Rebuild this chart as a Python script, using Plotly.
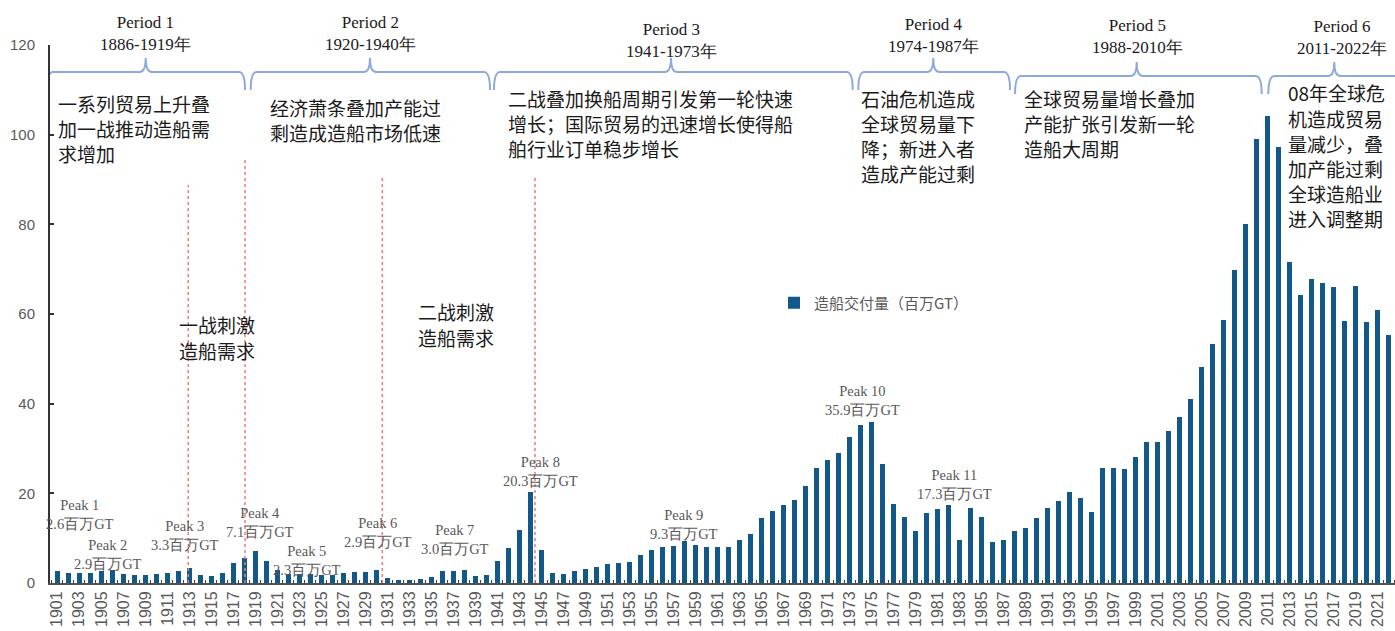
import plotly.graph_objects as go

# ---------------- data ----------------
years = list(range(1901, 2023))
deliveries = [
    2.6, 2.3, 2.3, 2.3, 2.6, 2.9, 2.0, 1.7, 1.7, 1.9,   # 1901-1910
    2.3, 2.6, 3.3, 1.7, 1.5, 2.2, 4.4, 5.6, 7.1, 4.8,   # 1911-1920
    2.9, 2.0, 2.0, 2.0, 1.7, 1.8, 2.3, 2.4, 2.4, 2.9,   # 1921-1930
    1.1, 0.7, 0.7, 1.0, 1.4, 2.6, 2.7, 3.0, 1.6, 1.8,   # 1931-1940
    4.8, 7.7, 11.9, 20.3, 7.4, 2.2, 2.0, 2.6, 3.2, 3.6, # 1941-1950
    4.3, 4.4, 4.6, 6.3, 7.4, 8.1, 8.3, 9.3, 8.5, 8.1,   # 1951-1960
    8.0, 8.1, 9.6, 11.0, 14.5, 16.0, 17.5, 18.5, 21.6, 25.6,  # 1961-1970
    27.5, 29.0, 32.5, 35.3, 35.9, 26.6, 17.6, 14.7, 11.7, 15.6,  # 1971-1980
    16.4, 17.3, 9.7, 16.7, 14.8, 9.2, 9.7, 11.5, 12.3, 14.4,  # 1981-1990
    16.7, 18.3, 20.2, 18.9, 15.9, 25.6, 25.7, 25.4, 28.1, 31.5,  # 1991-2000
    31.4, 33.8, 37.0, 41.1, 48.2, 53.4, 58.6, 69.9, 80.0, 99.0,  # 2001-2010
    104.2, 97.3, 71.6, 64.3, 67.9, 66.9, 66.1, 58.5, 66.3, 58.2,  # 2011-2020
    61.0, 55.4,  # 2021-2022
]
series_name = "造船交付量（百万GT）"
tick_years = list(range(1901, 2022, 2))
tick_labels = [str(y) for y in tick_years]

peak_names = ["Peak 1", "Peak 2", "Peak 3", "Peak 4", "Peak 5", "Peak 6",
              "Peak 7", "Peak 8", "Peak 9", "Peak 10", "Peak 11"]
peak_values = [2.6, 2.9, 3.3, 7.1, 2.3, 2.9, 3.0, 20.3, 9.3, 35.9, 17.3]

period_names = ["Period 1", "Period 2", "Period 3", "Period 4", "Period 5", "Period 6"]
period_spans = ["1886-1919年", "1920-1940年", "1941-1973年", "1974-1987年",
                "1988-2010年", "2011-2022年"]
period_texts = [
    ["一系列贸易上升叠", "加一战推动造船需", "求增加"],
    ["经济萧条叠加产能过", "剩造成造船市场低速"],
    ["二战叠加换船周期引发第一轮快速", "增长；国际贸易的迅速增长使得船", "舶行业订单稳步增长"],
    ["石油危机造成", "全球贸易量下", "降；新进入者", "造成产能过剩"],
    ["全球贸易量增长叠加", "产能扩张引发新一轮", "造船大周期"],
    ["08年全球危", "机造成贸易", "量减少，叠", "加产能过剩", "全球造船业", "进入调整期"],
]
war_texts = [["一战刺激", "造船需求"], ["二战刺激", "造船需求"]]

# ---------------- layout constants ----------------
W, H = 1395, 631
ML, MR, MT, MB = 50, 0, 45, 48
PW, PH = W - ML - MR, H - MT - MB
X0, X1 = 1900.337, 2022.56
YMAX = 120


def px_x(px):
    return (px - ML) / PW


def px_y(py):
    return (H - MB - py) / PH


def val_y(py):
    return (H - MB - py) / PH * YMAX


def yr(px):
    return X0 + (px - ML) / PW * (X1 - X0)


BAR_COLOR = "#12598a"
SERIF = "Liberation Serif, Times New Roman, serif"
CJK = "Noto Sans CJK SC, sans-serif"
SANS = "Liberation Sans, Arial, sans-serif"

fig = go.Figure()
fig.add_trace(go.Bar(
    x=years, y=deliveries, name=series_name, width=0.46,
    marker=dict(color=BAR_COLOR, line=dict(width=0)),
    showlegend=True,
))

shapes = []
# red dotted event lines (x pixel, top pixel)
for lx, top in [(188.3, 185), (245.0, 160), (382.3, 175), (535.0, 175)]:
    shapes.append(dict(type="line", xref="x", yref="y", x0=yr(lx), x1=yr(lx),
                       y0=0, y1=val_y(top),
                       line=dict(color="#f07a7a", width=1.5, dash="dot")))

# curly braces (left px, centre px, right px, bar py)
brace_geom = [(47, 145.7, 245, 72), (250.7, 370, 490, 72), (494, 671, 852.7, 72),
              (858.3, 933.3, 1010, 72), (1015, 1136.7, 1261.7, 76), (1268.3, 1334.3, 1420, 76)]
for lft, ctr, rgt, by in brace_geom:
    a, c, b = yr(lft), yr(ctr), yr(rgt)
    ybar, yend, ytip = val_y(by), val_y(by + 18), val_y(by - 14)
    r = 0.55
    path = (f"M{a},{yend} Q{a},{ybar} {a + r},{ybar} L{c - r},{ybar} "
            f"Q{c},{ybar} {c},{ytip} Q{c},{ybar} {c + r},{ybar} "
            f"L{b - r},{ybar} Q{b},{ybar} {b},{yend}")
    shapes.append(dict(type="path", xref="x", yref="y", path=path,
                       line=dict(color="#8eaadb", width=2)))

annotations = []
# period headers
header_pos = [(145.7, 33.5), (370, 33.5), (671, 41), (933.3, 35), (1137, 36.5), (1342, 37.5)]
for name, span, (cx, cy) in zip(period_names, period_spans, header_pos):
    annotations.append(dict(xref="paper", yref="paper", x=px_x(cx), y=px_y(cy),
                            text=f"{name}<br>{span}", showarrow=False,
                            xanchor="center", yanchor="middle",
                            font=dict(family=SERIF, size=17, color="#1a1a1a")))


def add_lines(lines, lx, ly, step=25):
    for i, line in enumerate(lines):
        annotations.append(dict(xref="paper", yref="paper", x=px_x(lx), y=px_y(ly + i * step),
                                text=line, showarrow=False, align="left",
                                xanchor="left", yanchor="middle", borderpad=0,
                                font=dict(family=CJK, size=19, color="#1a1a1a")))


# period descriptions (left px, first-line centre py)
desc_pos = [(57, 103), (269, 107), (507, 98), (860, 98), (1023, 98), (1287, 93)]
for lines, (lx, ly) in zip(period_texts, desc_pos):
    add_lines(lines, lx, ly)

for lines, (lx, ly) in zip(war_texts, [(178, 324), (417, 311)]):
    add_lines(lines, lx, ly, step=26)

# peak labels (centre px)
peak_pos = [(80, 514), (108, 554), (185, 535), (260, 522.5), (307, 560.5), (378, 532.5),
            (455, 539), (540, 471.5), (684, 524.5), (862, 400), (955, 484)]
for name, v, (cx, cy) in zip(peak_names, peak_values, peak_pos):
    annotations.append(dict(xref="paper", yref="paper", x=px_x(cx), y=px_y(cy),
                            text=f"{name}<br>{v:.1f}百万GT", showarrow=False,
                            xanchor="center", yanchor="middle", borderpad=0,
                            font=dict(family=SERIF, size=14.5, color="#595959")))

fig.update_layout(
    width=W, height=H, autosize=False,
    margin=dict(l=ML, r=MR, t=MT, b=MB, pad=0),
    paper_bgcolor="white", plot_bgcolor="white",
    bargap=0,
    shapes=shapes, annotations=annotations,
    legend=dict(x=px_x(774), y=px_y(303), xanchor="left", yanchor="middle",
                bgcolor="rgba(0,0,0,0)", font=dict(family=CJK, size=15, color="#595959"),
                itemwidth=30),
    xaxis=dict(range=[X0, X1], tickmode="array", tickvals=tick_years, ticktext=tick_labels,
               tickangle=-90, tickfont=dict(family=SANS, size=16, color="#595959"),
               showline=True, linecolor="#505050", linewidth=2, ticks="",
               showgrid=False, zeroline=False,
               minor=dict(ticks="inside", tick0=1900.5, dtick=1, ticklen=3,
                          tickcolor="#404040", tickwidth=1, showgrid=False)),
    yaxis=dict(range=[0, YMAX], tickmode="linear", tick0=0, dtick=20,
               tickfont=dict(family=SANS, size=15, color="#595959"),
               showline=True, linecolor="#333333", linewidth=2,
               ticks="inside", ticklen=4, tickcolor="#333333", tickwidth=1.5,
               ticklabelstandoff=10, showgrid=False, zeroline=False),
)

fig.write_html("out.html", config={"displayModeBar": False},
               post_script="document.body.style.margin='0';")
